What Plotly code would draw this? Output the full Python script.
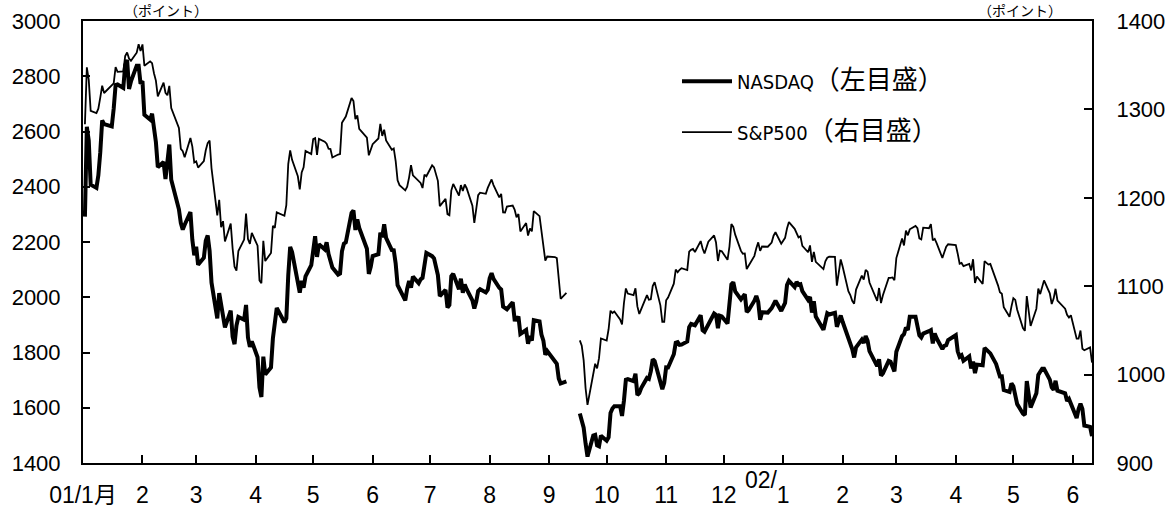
import pandas as pd
import plotly.graph_objects as go

# ---- data (daily closes) ----
nasdaq_2001 = [
    2291.86, 2616.69, 2566.83, 2407.65, 2395.92, 2441.30, 2524.18, 2640.57, 2626.50, 2618.55, 2682.78,
    2768.49, 2770.38, 2757.91, 2840.39, 2859.15, 2754.28, 2781.30, 2838.34, 2838.35, 2772.73,
    2782.79, 2660.50, 2643.21, 2664.49, 2607.82, 2562.06, 2470.97, 2489.66, 2427.72, 2491.40,
    2552.91, 2425.38, 2318.35, 2268.94, 2244.96, 2262.51, 2308.50, 2207.82, 2151.83,
    2183.37, 2117.63, 2142.92, 2204.43, 2223.92, 2168.73, 2052.78, 1923.38, 2014.78, 1972.09, 1940.71,
    1890.91, 1951.18, 1857.44, 1830.23, 1897.70, 1928.68, 1918.49, 1972.26, 1854.13, 1820.57, 1840.26,
    1782.97, 1673.00, 1638.80, 1785.00, 1720.36, 1745.71, 1852.03, 1898.95, 1961.43, 1909.57,
    1923.22, 2079.44, 2182.14, 2163.41, 2059.32, 2016.61, 2059.80, 2034.88, 2075.68, 2116.24,
    2168.24, 2220.60, 2146.20, 2191.53, 2173.57, 2198.77, 2156.63, 2128.86, 2107.43, 2081.92, 2085.58,
    2166.44, 2193.68, 2198.88, 2305.59, 2313.85, 2243.48, 2282.02, 2251.03, 2175.54, 2084.50, 2110.49,
    2149.44, 2155.93, 2233.66, 2217.73, 2264.00, 2215.10, 2170.78, 2169.95, 2121.94, 2044.07, 2028.43,
    1988.63, 2031.22, 2058.76, 2034.84, 2074.74, 2050.87, 2064.62, 2070.00, 2125.46, 2160.54,
    2148.72, 2140.80, 2080.11, 2004.16, 2026.71, 1962.79, 1972.04, 2075.74, 2084.79, 2029.12, 2067.32,
    2016.17, 2046.59, 2029.37, 1988.56, 1959.24, 1984.32, 2022.70, 2029.07, 2017.37, 2027.13,
    2068.38, 2087.07, 2066.33, 2034.26, 2027.79, 1966.36, 1963.32, 1956.47, 1982.25, 1919.22, 1918.89,
    1930.32, 1867.01, 1881.35, 1831.30, 1860.01, 1842.97, 1916.80, 1912.41, 1864.98, 1843.17, 1791.68, 1805.43,
    1770.76, 1759.00, 1705.64, 1687.70, 1695.38,
    1579.55, 1555.08, 1527.80, 1470.93, 1423.19, 1499.40, 1501.64, 1464.04, 1460.71, 1498.80,
    1480.46, 1492.33, 1580.81, 1597.31, 1605.30, 1605.95, 1570.19, 1626.26, 1701.47, 1703.40, 1696.31,
    1722.99, 1646.34, 1652.72, 1671.30, 1708.08, 1704.44, 1731.54, 1775.47, 1768.96, 1699.52, 1667.41, 1690.20,
    1746.30, 1745.73, 1793.65, 1835.08, 1837.53, 1827.77, 1828.48, 1840.13, 1892.06, 1903.19, 1900.57,
    1898.58, 1934.42, 1880.51, 1875.05, 1903.20, 1941.23, 1935.97, 1887.97, 1933.26, 1930.58,
    1904.90, 1963.03, 2046.84, 2054.27, 2021.26, 1992.12, 2001.93, 2011.38, 1946.51, 1953.17,
    1987.53, 2004.76, 1982.89, 1918.54, 1945.83, 1944.48, 1960.70, 1976.42, 1987.26, 1950.40,
]
nasdaq_2002 = [
    1979.25, 2044.27, 2059.38, 2037.10, 2055.74, 2044.89, 2047.24, 2022.46, 1990.74, 2000.91, 1944.44,
    1985.82, 1930.34, 1882.53, 1922.38, 1942.14, 1937.70, 1943.91, 1892.99, 1913.44, 1934.03,
    1911.24, 1855.53, 1838.52, 1812.71, 1782.11, 1818.88, 1846.66, 1834.21, 1859.16, 1843.37,
    1805.20, 1750.61, 1775.57, 1716.24, 1724.54, 1769.88, 1766.86, 1751.88, 1731.49,
    1802.74, 1859.32, 1866.29, 1890.40, 1881.63, 1929.49, 1929.67, 1897.12, 1862.03, 1854.14,
    1868.30, 1877.09, 1880.87, 1832.87, 1868.83, 1851.39, 1812.49, 1824.17, 1826.75, 1845.35,
    1862.62, 1804.40, 1784.35, 1789.75, 1770.03, 1785.87, 1742.57, 1767.07, 1725.24, 1756.19, 1753.78,
    1816.79, 1810.67, 1802.43, 1796.83, 1758.68, 1730.29, 1713.28, 1713.76, 1663.89, 1656.93, 1688.23,
    1677.53, 1644.82, 1613.03, 1578.48, 1573.82, 1696.29, 1650.49, 1600.85, 1652.54, 1719.05, 1730.29,
    1741.39, 1741.16, 1701.79, 1673.56, 1664.74, 1697.63, 1661.49, 1652.17, 1624.39, 1631.92, 1615.73,
    1562.56, 1595.26, 1614.27, 1595.26, 1535.48, 1530.69, 1497.18,
]
sp500_2001 = [
    1283.27, 1347.56, 1333.34, 1298.35, 1295.86, 1300.80, 1313.27, 1326.82, 1318.55, 1326.65, 1329.47,
    1347.97, 1342.54, 1342.90, 1360.40, 1364.30, 1357.51, 1354.95, 1364.17, 1373.73, 1366.01,
    1373.47, 1349.47, 1354.31, 1352.26, 1340.89, 1332.53, 1314.76, 1330.31, 1318.80, 1315.92,
    1326.61, 1301.53, 1278.94, 1255.27, 1252.82, 1245.86, 1267.65, 1257.94, 1239.94,
    1241.23, 1234.18, 1241.41, 1253.80, 1261.89, 1264.74, 1233.42, 1180.16, 1197.66, 1166.71, 1173.56,
    1150.53, 1170.81, 1142.62, 1122.14, 1117.58, 1139.83, 1152.69, 1182.17, 1153.29, 1147.95, 1160.33,
    1145.87, 1106.46, 1103.25, 1151.44, 1128.43, 1137.59, 1168.38, 1165.89, 1183.50, 1179.68,
    1191.81, 1238.16, 1253.69, 1242.98, 1224.36, 1209.47, 1228.75, 1234.52, 1253.05, 1249.46,
    1266.44, 1267.43, 1248.58, 1266.61, 1263.51, 1261.20, 1255.54, 1255.18, 1245.67, 1248.92, 1249.44,
    1284.99, 1288.49, 1291.96, 1312.83, 1309.38, 1289.05, 1293.17, 1277.89, 1267.93, 1248.08, 1255.82,
    1260.67, 1267.11, 1283.57, 1270.03, 1276.96, 1264.96, 1254.39, 1255.85, 1241.60, 1219.87, 1214.36,
    1208.43, 1212.58, 1223.14, 1237.04, 1225.35, 1218.60, 1216.76, 1211.07, 1226.20, 1224.38,
    1236.72, 1234.45, 1219.24, 1190.59, 1198.78, 1181.52, 1180.18, 1208.14, 1215.68, 1202.45, 1214.44,
    1207.71, 1215.02, 1210.85, 1191.03, 1171.65, 1190.49, 1202.93, 1205.82, 1204.52, 1211.23,
    1215.93, 1220.75, 1214.35, 1200.48, 1204.40, 1183.53, 1183.43, 1190.16, 1191.29, 1186.73, 1178.02,
    1181.66, 1161.97, 1171.41, 1157.26, 1165.31, 1162.09, 1184.93, 1179.21, 1161.51, 1148.56, 1129.03, 1133.58,
    1132.94, 1131.74, 1106.40, 1085.78, 1092.54,
    1038.77, 1032.74, 1016.10, 984.54, 965.80, 1003.45, 1012.27, 1007.04, 1018.61, 1040.94,
    1038.55, 1051.33, 1072.28, 1069.63, 1071.38, 1062.44, 1056.75, 1080.99, 1097.43, 1091.65, 1089.98,
    1097.54, 1077.09, 1068.61, 1073.48, 1089.90, 1084.78, 1085.20, 1100.09, 1104.61, 1078.30, 1059.79, 1059.78,
    1084.10, 1087.20, 1102.84, 1118.86, 1115.80, 1118.54, 1120.31, 1118.33, 1139.09, 1141.21, 1142.24,
    1138.65, 1151.06, 1142.66, 1137.03, 1150.34, 1157.42, 1149.50, 1128.52, 1140.20, 1139.45,
    1129.90, 1144.80, 1170.35, 1167.10, 1158.31, 1139.93, 1136.76, 1137.07, 1119.38, 1123.09,
    1134.36, 1142.92, 1149.56, 1139.93, 1144.89, 1144.65, 1149.37, 1157.13, 1161.02, 1148.08,
]
sp500_2002 = [
    1154.67, 1165.27, 1172.51, 1164.89, 1160.71, 1155.14, 1156.55, 1145.60, 1138.41, 1146.19, 1127.57,
    1138.88, 1127.58, 1119.31, 1128.18, 1132.15, 1133.28, 1133.06, 1100.64, 1113.57, 1130.20,
    1122.20, 1094.44, 1090.02, 1083.51, 1080.17, 1096.22, 1111.94, 1107.50, 1118.51, 1116.48,
    1104.18, 1083.34, 1097.98, 1080.95, 1089.84, 1109.43, 1109.38, 1109.89, 1106.73,
    1131.78, 1153.84, 1146.14, 1162.77, 1157.54, 1164.31, 1168.26, 1165.58, 1154.09, 1153.04,
    1166.16, 1165.55, 1170.29, 1151.85, 1153.59, 1148.70, 1131.87, 1138.49, 1144.58, 1147.39,
    1146.54, 1136.76, 1125.40, 1126.34, 1122.73, 1125.29, 1117.80, 1130.47, 1103.69, 1111.01, 1102.55,
    1128.37, 1126.07, 1124.47, 1125.17, 1107.83, 1100.96, 1093.14, 1091.48, 1076.32, 1065.45, 1076.92,
    1086.46, 1084.56, 1073.43, 1052.67, 1049.49, 1088.85, 1073.01, 1054.99, 1074.56, 1097.28, 1091.07,
    1098.23, 1106.59, 1091.88, 1079.88, 1086.02, 1097.08, 1083.82, 1074.55, 1067.66, 1064.66, 1067.14,
    1040.68, 1040.69, 1049.90, 1029.15, 1027.53, 1030.74, 1013.60,
]

market_closed = [
    "2001-01-15", "2001-02-19", "2001-04-13", "2001-05-28", "2001-07-04", "2001-09-03",
    "2001-09-11", "2001-09-12", "2001-09-13", "2001-09-14", "2001-11-22", "2001-12-25",
    "2002-01-01", "2002-01-21", "2002-02-18", "2002-03-29", "2002-05-27",
]
month_starts = ["2001-%02d-01" % m for m in range(1, 13)] + ["2002-%02d-01" % m for m in range(1, 7)]
month_labels = ["01/1月", "2", "3", "4", "5", "6", "7", "8", "9", "10", "11", "12",
                "1", "2", "3", "4", "5", "6"]

# ---- trading calendar ----
closed = pd.to_datetime(market_closed)
days = pd.bdate_range("2001-01-02", "2002-06-11")
days = [d for d in days if d not in closed]
nasdaq = nasdaq_2001 + nasdaq_2002
sp500 = sp500_2001 + sp500_2002
assert len(days) == len(nasdaq) == len(sp500), (len(days), len(nasdaq), len(sp500))

# break the lines over the market closure after 9/11
gap = days.index(pd.Timestamp("2001-09-17"))
x = days[:gap] + [pd.Timestamp("2001-09-11")] + days[gap:]
y_nas = nasdaq[:gap] + [None] + nasdaq[gap:]
y_sp = sp500[:gap] + [None] + sp500[gap:]

YTICK_FONT = dict(family="Liberation Sans, Arial, Noto Sans CJK JP", size=22, color="black")
XTICK_FONT = dict(family="Liberation Sans, Arial, Noto Sans CJK JP", size=23, color="black")
LEG_FONT = dict(family="DejaVu Sans Condensed, Noto Sans CJK JP", size=20, color="black")
CJK_SPAN = '<span style="font-family:Noto Sans CJK JP;font-size:26px">%s</span>'

fig = go.Figure()
fig.add_trace(go.Scatter(x=x, y=y_nas, mode="lines", name="NASDAQ" + CJK_SPAN % "（左目盛）",
                         line=dict(color="black", width=4), legendgroup="a", yaxis="y"))
fig.add_trace(go.Scatter(x=x, y=y_sp, mode="lines", name="S&amp;P500" + CJK_SPAN % "（右目盛）",
                         line=dict(color="black", width=1.8), legendgroup="b", yaxis="y2"))

fig.update_layout(
    width=1173, height=509,
    margin=dict(l=83, r=81, t=21, b=46, autoexpand=False),
    paper_bgcolor="white", plot_bgcolor="white",
    showlegend=True,
    legend=dict(x=0.5887, y=0.908, xanchor="left", yanchor="top", font=LEG_FONT,
                bgcolor="rgba(0,0,0,0)", tracegroupgap=22, itemwidth=50),
    xaxis=dict(
        type="date", range=["2001-01-01", "2002-06-11"],
        tickmode="array", tickvals=month_starts, ticktext=month_labels,
        ticks="inside", ticklen=8, tickwidth=1.5, tickcolor="black",
        showline=True, linewidth=2, linecolor="black", mirror=True,
        showgrid=False, zeroline=False, tickfont=XTICK_FONT, ticklabelstandoff=10,
        automargin=False,
    ),
    yaxis=dict(
        range=[1400, 3000], dtick=200, tick0=1400,
        ticks="inside", ticklen=7, tickwidth=1.5, tickcolor="black",
        showline=True, linewidth=2, linecolor="black",
        showgrid=False, zeroline=False, tickfont=YTICK_FONT, ticklabelstandoff=16,
        automargin=False,
    ),
    yaxis2=dict(
        range=[900, 1400], dtick=100, tick0=900, overlaying="y", side="right",
        ticks="inside", ticklen=8, tickwidth=1.5, tickcolor="black",
        showline=True, linewidth=2, linecolor="black",
        showgrid=False, zeroline=False, tickfont=YTICK_FONT, ticklabelstandoff=18,
        automargin=False,
    ),
    annotations=[
        dict(text="（ポイント）", xref="paper", yref="paper", x=0.082, y=1.0,
             xanchor="center", yanchor="bottom", showarrow=False, borderpad=0,
             font=dict(family="Noto Sans CJK JP", size=14, color="black")),
        dict(text="（ポイント）", xref="paper", yref="paper", x=0.929, y=1.0,
             xanchor="center", yanchor="bottom", showarrow=False, borderpad=0,
             font=dict(family="Noto Sans CJK JP", size=14, color="black")),
        dict(text="02/", xref="x", yref="paper", x="2002-01-01", y=-0.038,
             xanchor="right", yanchor="middle", xshift=-3, showarrow=False,
             font=XTICK_FONT),
    ],
)

fig.write_html("out.html", config={"displayModeBar": False},
               post_script="document.body.style.margin='0px';")
